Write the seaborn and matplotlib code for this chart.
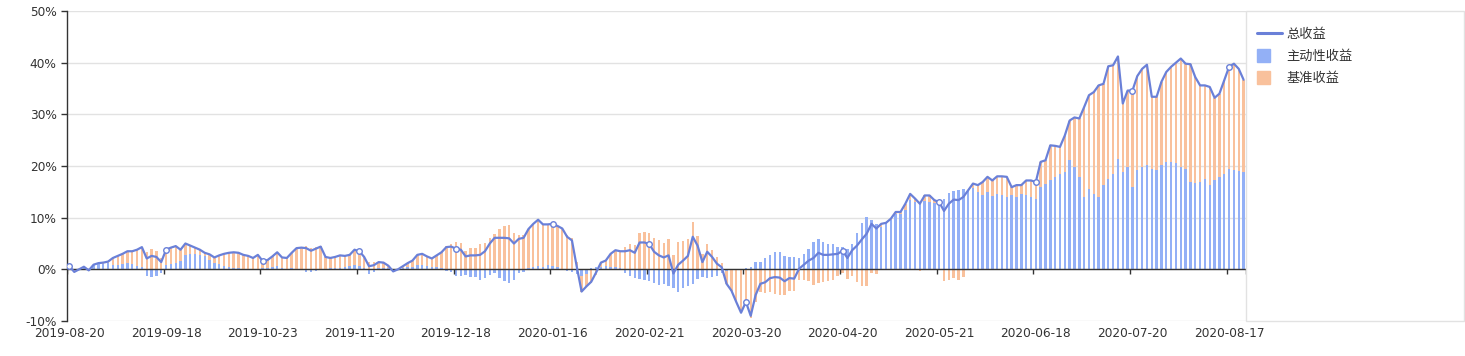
import numpy as np
import pandas as pd
import matplotlib
matplotlib.use('Agg')
import matplotlib.pyplot as plt
import seaborn as sns
from matplotlib.lines import Line2D
from matplotlib.patches import Patch, Rectangle
from matplotlib.legend_handler import HandlerPatch

# x axis labels (every 20th trading day)
tick_labels = ['2019-08-20', '2019-09-18', '2019-10-23', '2019-11-20', '2019-12-18',
               '2020-01-16', '2020-02-21', '2020-03-20', '2020-04-20', '2020-05-21',
               '2020-06-18', '2020-07-20', '2020-08-17']

# total return (%), line
total_ret = [
    0.6, -0.5, 0.0, 0.5, -0.2, 0.9, 1.2, 1.3, 1.5, 2.2, 2.6, 3.0, 3.5, 3.5, 3.8, 4.3, 2.1, 2.6, 2.4, 1.4,
    3.8, 4.2, 4.5, 3.8, 5.0, 4.6, 4.2, 3.8, 3.2, 2.9, 2.3, 2.7, 3.0, 3.2, 3.3, 3.2, 2.8, 2.6, 2.2, 2.8,
    1.6, 1.8, 2.5, 3.3, 2.3, 2.2, 3.2, 4.1, 4.2, 4.1, 3.6, 4.0, 4.4, 2.4, 2.2, 2.4, 2.7, 2.6, 2.8, 3.8,
    3.5, 2.4, 0.6, 0.8, 1.4, 1.3, 0.7, -0.4, 0.0, 0.6, 1.2, 1.7, 2.8, 3.0, 2.5, 2.1, 2.7, 3.3, 4.3, 4.4,
    4.0, 3.8, 2.5, 2.7, 2.7, 2.8, 3.5, 5.0, 6.1, 6.1, 6.1, 6.0, 5.0, 5.9, 6.1, 7.8, 8.8, 9.6, 8.7, 8.7,
    8.8, 8.4, 7.9, 6.3, 5.6, 0.5, -4.3, -3.3, -2.4, -0.6, 1.3, 1.7, 3.0, 3.7, 3.5, 3.5, 3.7, 3.2, 5.2, 5.2,
    4.9, 3.4, 2.7, 2.3, 2.7, -0.8, 0.9, 1.7, 2.6, 6.3, 4.6, 1.4, 3.4, 2.4, 1.1, 0.4, -2.8, -4.1, -6.3, -8.4,
    -6.3, -9.0, -5.0, -2.8, -2.5, -1.7, -1.5, -1.6, -2.3, -1.7, -1.8, 0.1, 0.9, 1.7, 2.2, 3.2, 2.8, 2.8, 2.9, 3.0,
    3.6, 2.2, 3.7, 4.6, 5.8, 6.9, 8.8, 7.9, 8.8, 9.0, 9.8, 11.1, 11.1, 12.7, 14.6, 13.7, 12.7, 14.3, 14.3, 13.4,
    13.0, 11.3, 12.7, 13.5, 13.4, 14.0, 15.3, 16.6, 16.3, 16.9, 17.9, 17.2, 18.0, 18.0, 17.9, 15.9, 16.3, 16.3, 17.2, 17.2,
    16.9, 20.8, 21.1, 24.0, 23.9, 23.7, 25.9, 28.8, 29.4, 29.2, 31.4, 33.7, 34.3, 35.6, 35.9, 39.3, 39.5, 41.2, 32.1, 34.6,
    34.6, 37.4, 38.8, 39.6, 33.4, 33.4, 36.3, 38.2, 39.2, 40.0, 40.8, 39.8, 39.7, 37.2, 35.6, 35.6, 35.3, 33.2, 34.0, 36.6,
    39.2, 39.8, 38.8, 36.7,
]

# active return (%), blue bars
active_ret = [
    0.3, -0.2, 0.1, 0.3, -0.3, 0.8, 1.0, 1.1, 1.2, 0.9, 0.8, 1.0, 1.2, 1.0, 0.6, 0.4, -1.3, -1.4, -1.2, -0.8,
    0.8, 1.0, 1.2, 1.6, 2.7, 3.0, 2.9, 2.8, 2.5, 1.8, 1.2, 1.0, 0.6, 0.4, 0.3, 0.2, 0.1, 0.0, -0.2, 0.1,
    0.2, 0.3, 0.5, 0.6, 0.3, 0.1, 0.2, 0.1, -0.2, -0.5, -0.6, -0.3, -0.2, 0.1, 0.2, 0.2, 0.3, 0.4, 0.6, 0.8,
    0.7, 0.3, -0.9, -0.6, 0.2, 0.3, 0.2, -0.2, 0.0, 0.2, 0.4, 0.5, 0.8, 0.9, 0.6, 0.4, 0.5, 0.3, -0.3, -0.6,
    -1.2, -1.3, -1.1, -1.5, -1.4, -2.1, -1.6, -1.0, -0.8, -1.7, -2.3, -2.6, -2.0, -0.8, -0.5, 0.3, 0.5, 0.6, 0.5, 0.9,
    0.7, 0.4, 0.0, -0.3, -0.5, -0.9, -1.2, -0.9, 0.3, 0.5, 0.4, 0.6, 0.5, 0.4, 0.3, -0.8, -1.2, -1.6, -1.9, -2.1,
    -2.2, -2.6, -3.0, -2.8, -3.2, -3.6, -4.3, -3.7, -3.3, -2.8, -1.9, -1.5, -1.6, -1.4, -1.2, -0.8, -0.3, -0.1, 0.0, 0.0,
    0.3, 0.5, 1.4, 1.5, 2.1, 2.7, 3.3, 3.4, 2.6, 2.4, 2.4, 2.2, 3.0, 4.0, 5.3, 5.9, 5.3, 5.0, 5.0, 4.3,
    4.3, 4.0, 5.0, 7.0, 9.0, 10.1, 9.5, 8.8, 8.2, 9.2, 9.5, 10.8, 10.8, 11.4, 13.4, 13.0, 13.0, 13.2, 13.0, 12.8,
    13.0, 13.6, 14.8, 15.2, 15.4, 15.5, 15.3, 15.8, 15.0, 14.3, 15.0, 14.2, 14.5, 14.3, 14.0, 14.3, 14.0, 14.5, 14.3, 14.0,
    13.6, 16.0, 16.6, 17.2, 17.9, 18.5, 18.8, 21.1, 19.8, 17.9, 14.0, 15.6, 14.6, 14.0, 16.3, 17.5, 18.5, 21.4, 18.8, 19.8,
    15.9, 19.2, 19.8, 20.1, 19.5, 19.2, 20.1, 20.8, 20.8, 20.5, 19.8, 19.5, 16.9, 16.7, 16.9, 17.5, 16.3, 17.2, 17.9, 18.5,
    19.5, 19.3, 19.0, 18.8,
]

# benchmark return (%), orange bars
bench_ret = [
    0.3, -0.3, -0.1, 0.2, 0.1, 0.1, 0.2, 0.2, 0.3, 1.3, 1.8, 2.0, 2.3, 2.5, 3.2, 3.9, 3.4, 4.0, 3.6, 2.2,
    3.0, 3.2, 3.3, 2.2, 2.3, 1.6, 1.3, 1.0, 0.7, 1.1, 1.1, 1.7, 2.4, 2.8, 3.0, 3.0, 2.7, 2.6, 2.4, 2.7,
    1.4, 1.5, 2.0, 2.7, 2.0, 2.1, 3.0, 4.0, 4.4, 4.6, 4.2, 4.3, 4.6, 2.3, 2.0, 2.2, 2.4, 2.2, 2.2, 3.0,
    2.8, 2.1, 1.5, 1.4, 1.2, 1.0, 0.5, -0.2, 0.0, 0.4, 0.8, 1.2, 2.0, 2.1, 1.9, 1.7, 2.2, 3.0, 4.6, 5.0,
    5.2, 5.1, 3.6, 4.2, 4.1, 4.9, 5.1, 6.0, 6.9, 7.8, 8.4, 8.6, 7.0, 6.7, 6.6, 7.5, 8.3, 9.0, 8.2, 7.8,
    8.1, 8.0, 7.9, 6.6, 6.1, 1.4, -3.1, -2.4, -2.7, -1.1, 0.9, 1.1, 2.5, 3.3, 3.2, 4.3, 4.9, 4.8, 7.1, 7.3,
    7.1, 6.0, 5.7, 5.1, 5.9, 2.8, 5.2, 5.4, 5.9, 9.1, 6.5, 2.9, 5.0, 3.8, 2.3, 1.2, -2.5, -4.0, -6.3, -8.4,
    -6.6, -9.5, -6.4, -4.3, -4.6, -4.4, -4.8, -5.0, -4.9, -4.1, -4.2, -2.1, -2.1, -2.3, -3.1, -2.7, -2.5, -2.2, -2.1, -1.3,
    -0.7, -1.8, -1.3, -2.4, -3.2, -3.2, -0.7, -0.9, 0.6, -0.2, 0.3, 0.3, 0.3, 1.3, 1.2, 0.7, -0.3, 1.1, 1.3, 0.6,
    0.0, -2.3, -2.1, -1.7, -2.0, -1.5, 0.0, 0.8, 1.3, 2.6, 2.9, 3.0, 3.5, 3.7, 3.9, 1.6, 2.3, 1.8, 2.9, 3.2,
    3.3, 4.8, 4.5, 6.8, 6.0, 5.2, 7.1, 7.7, 9.6, 11.3, 17.4, 18.1, 19.7, 21.6, 19.6, 21.8, 21.0, 19.8, 13.3, 14.8,
    18.7, 18.2, 19.0, 19.5, 13.9, 14.2, 16.2, 17.4, 18.4, 19.5, 21.0, 20.3, 22.8, 20.5, 18.7, 18.1, 19.0, 16.0, 16.1, 18.1,
    19.7, 20.5, 19.8, 17.9,
]

n = len(total_ret)
df = pd.DataFrame({'day': np.arange(n), 'total': total_ret,
                   'active': active_ret, 'bench': bench_ret})
# echarts-like stacking: same sign stacks on the blue bar, opposite sign starts at zero
df['bench_base'] = np.where(np.sign(df['bench']) == np.sign(df['active']), df['active'], 0.0)

sns.set_style('white')
plt.rcParams['font.family'] = ['DejaVu Sans', 'Noto Sans CJK SC']

line_c = '#6a80d8'
blue_c = '#93b0f6'
orange_c = '#f9c19c'
text_c = '#333333'
grid_c = '#e2e2e2'

fig = plt.figure(figsize=(14.65, 3.56), dpi=100)
ax = fig.add_axes([67 / 1465, 35 / 356, (1246 - 67) / 1465, 310 / 356])

sns.barplot(data=df, x='day', y='active', color=blue_c, saturation=1, width=0.5,
            errorbar=None, linewidth=0, ax=ax, zorder=2)
sns.barplot(data=df, x='day', y='bench', bottom=df['bench_base'].values, color=orange_c,
            saturation=1, width=0.5, errorbar=None, linewidth=0, ax=ax, zorder=2)
sns.lineplot(data=df, x='day', y='total', color=line_c, linewidth=1.6, marker='o',
             markevery=20, markersize=4, markerfacecolor='white', markeredgecolor=line_c,
             markeredgewidth=1, ax=ax, zorder=5)

ax.set_xlim(-0.5, n - 0.5)
ax.set_ylim(-10, 50)
yt = list(range(-10, 51, 10))
ax.set_yticks(yt)
ax.set_yticklabels([f'{v}%' for v in yt])
label_pos = np.arange(0, 20 * len(tick_labels), 20)
ax.set_xticks(label_pos)
ax.set_xticklabels(tick_labels)
ax.set_xlabel('')
ax.set_ylabel('')

ax.yaxis.grid(True, color=grid_c, linewidth=1)
ax.xaxis.grid(False)
ax.set_axisbelow(True)
for s in ['top', 'right', 'bottom']:
    ax.spines[s].set_visible(False)
ax.spines['left'].set_color(text_c)
ax.spines['left'].set_linewidth(1)

ax.tick_params(axis='y', left=True, length=4.5, width=1, color=text_c,
               labelcolor=text_c, labelsize=8.7, pad=3)
ax.tick_params(axis='x', bottom=True, length=0, labelcolor=text_c, labelsize=8.7, pad=4)

# zero axis line with category ticks
ax.axhline(0, color=text_c, linewidth=1, zorder=3)
ax.vlines(np.append(label_pos - 0.5, n - 0.5), -0.9, 0, color=text_c, linewidth=1, zorder=3)


def square(legend, orig_handle, xdescent, ydescent, width, height, fontsize):
    side = fontsize * 1.0
    return Rectangle((-xdescent, -ydescent + height / 2 - side / 2), side, side)


handles = [Line2D([], [], color=line_c, linewidth=2.2),
           Patch(color=blue_c), Patch(color=orange_c)]
fig.legend(handles, ['总收益', '主动性收益', '基准收益'],
           loc='upper left', bbox_to_anchor=(1257 / 1465, (356 - 28) / 356),
           frameon=False, borderpad=0, borderaxespad=0, handlelength=1.9,
           handletextpad=0.35, labelspacing=0.68,
           prop={'family': 'Noto Sans CJK SC', 'size': 9.5},
           labelcolor=text_c,
           handler_map={Patch: HandlerPatch(patch_func=square)})

# light frame around the legend area
fig.add_artist(Rectangle((1246 / 1465, 35 / 356), (1464 - 1246) / 1465, 310 / 356,
                         transform=fig.transFigure, fill=False, edgecolor=grid_c, linewidth=1))

fig.savefig('out.png', dpi=100)
